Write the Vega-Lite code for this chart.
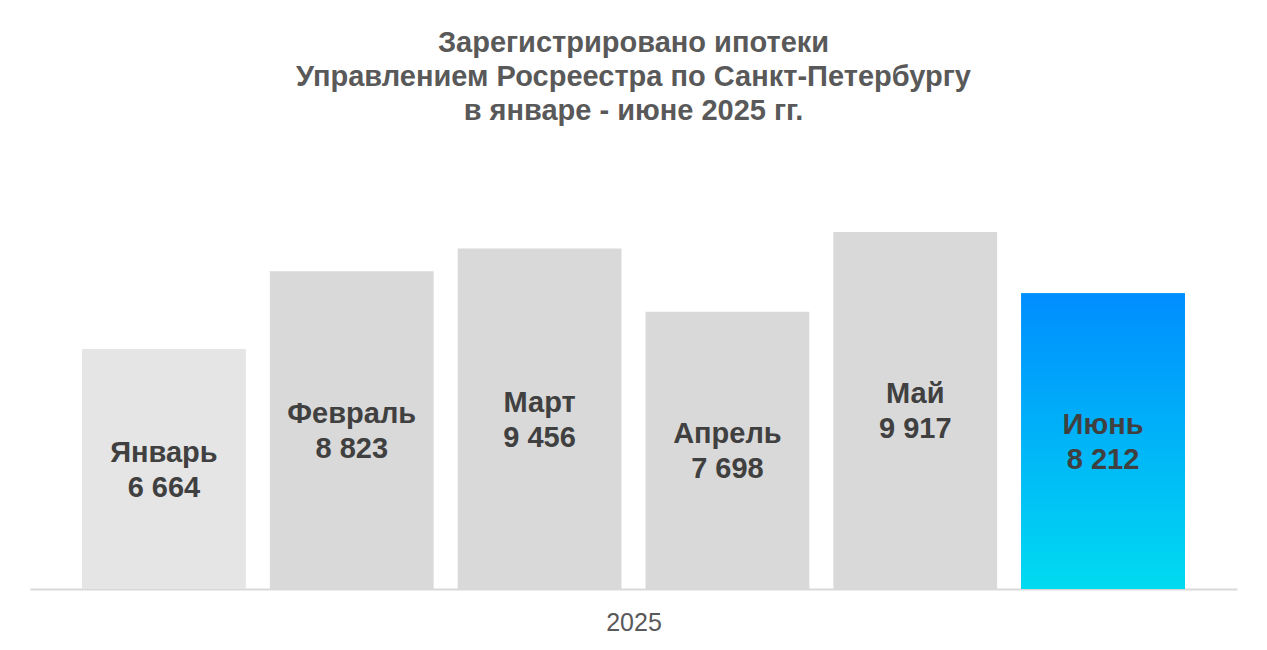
{
  "$schema": "https://vega.github.io/schema/vega-lite/v6.json",
  "width": 1207,
  "height": 432,
  "autosize": {"type": "none"},
  "padding": {"left": 30, "top": 157, "right": 30, "bottom": 61},
  "background": "#ffffff",
  "config": {
    "view": {"stroke": null},
    "font": "Liberation Sans",
    "locale": {"number": {"decimal": ",", "thousands": " ", "grouping": [3], "currency": ["", " ₽"]}}
  },
  "title": {
    "text": ["Зарегистрировано ипотеки", "Управлением Росреестра по Санкт-Петербургу", "в январе - июне 2025 гг."],
    "font": "Liberation Sans",
    "fontSize": 29,
    "fontWeight": "bold",
    "color": "#595959",
    "lineHeight": 34,
    "anchor": "middle",
    "offset": 31
  },
  "data": {
    "values": [
      {"month": "Январь", "value": 6664},
      {"month": "Февраль", "value": 8823},
      {"month": "Март", "value": 9456},
      {"month": "Апрель", "value": 7698},
      {"month": "Май", "value": 9917},
      {"month": "Июнь", "value": 8212}
    ]
  },
  "encoding": {
    "x": {
      "field": "month",
      "type": "nominal",
      "sort": null,
      "scale": {"paddingInner": 0.128, "paddingOuter": 0.277},
      "axis": {
        "labels": false,
        "ticks": false,
        "domainColor": "#d9d9d9",
        "domainWidth": 2,
        "title": "2025",
        "titleFont": "Liberation Sans",
        "titleFontSize": 25,
        "titleFontWeight": "normal",
        "titleColor": "#595959",
        "titlePadding": 21
      }
    }
  },
  "layer": [
    {
      "mark": {"type": "bar"},
      "encoding": {
        "y": {"field": "value", "type": "quantitative", "scale": {"domain": [0, 12000]}, "axis": null},
        "color": {
          "field": "month",
          "type": "nominal",
          "scale": {"domain": ["Январь", "Февраль", "Март", "Апрель", "Май", "Июнь"], "range": ["#e5e5e5", "#d9d9d9", "#d9d9d9", "#d9d9d9", "#d9d9d9", "#00b4f8"]},
          "legend": null
        }
      }
    },
    {
      "transform": [{"filter": "datum.month === 'Июнь'"}],
      "mark": {
        "type": "bar",
        "color": {"gradient": "linear", "x1": 0, "y1": 0, "x2": 0, "y2": 1, "stops": [{"offset": 0, "color": "#008dff"}, {"offset": 1, "color": "#00dbf0"}]}
      },
      "encoding": {
        "y": {"field": "value", "type": "quantitative", "scale": {"domain": [0, 12000]}, "axis": null}
      }
    },
    {
      "mark": {"type": "text", "font": "Liberation Sans", "fontSize": 29, "fontWeight": "bold", "color": "#404040", "baseline": "middle", "dy": -16},
      "encoding": {
        "y": {"field": "value", "type": "quantitative", "scale": {"domain": [0, 24000]}, "axis": null},
        "text": {"field": "month", "type": "nominal"}
      }
    },
    {
      "mark": {"type": "text", "font": "Liberation Sans", "fontSize": 29, "fontWeight": "bold", "color": "#404040", "baseline": "middle", "dy": 19},
      "encoding": {
        "y": {"field": "value", "type": "quantitative", "scale": {"domain": [0, 24000]}, "axis": null},
        "text": {"field": "value", "type": "quantitative", "format": ",d"}
      }
    }
  ],
  "resolve": {"scale": {"y": "independent"}}
}
